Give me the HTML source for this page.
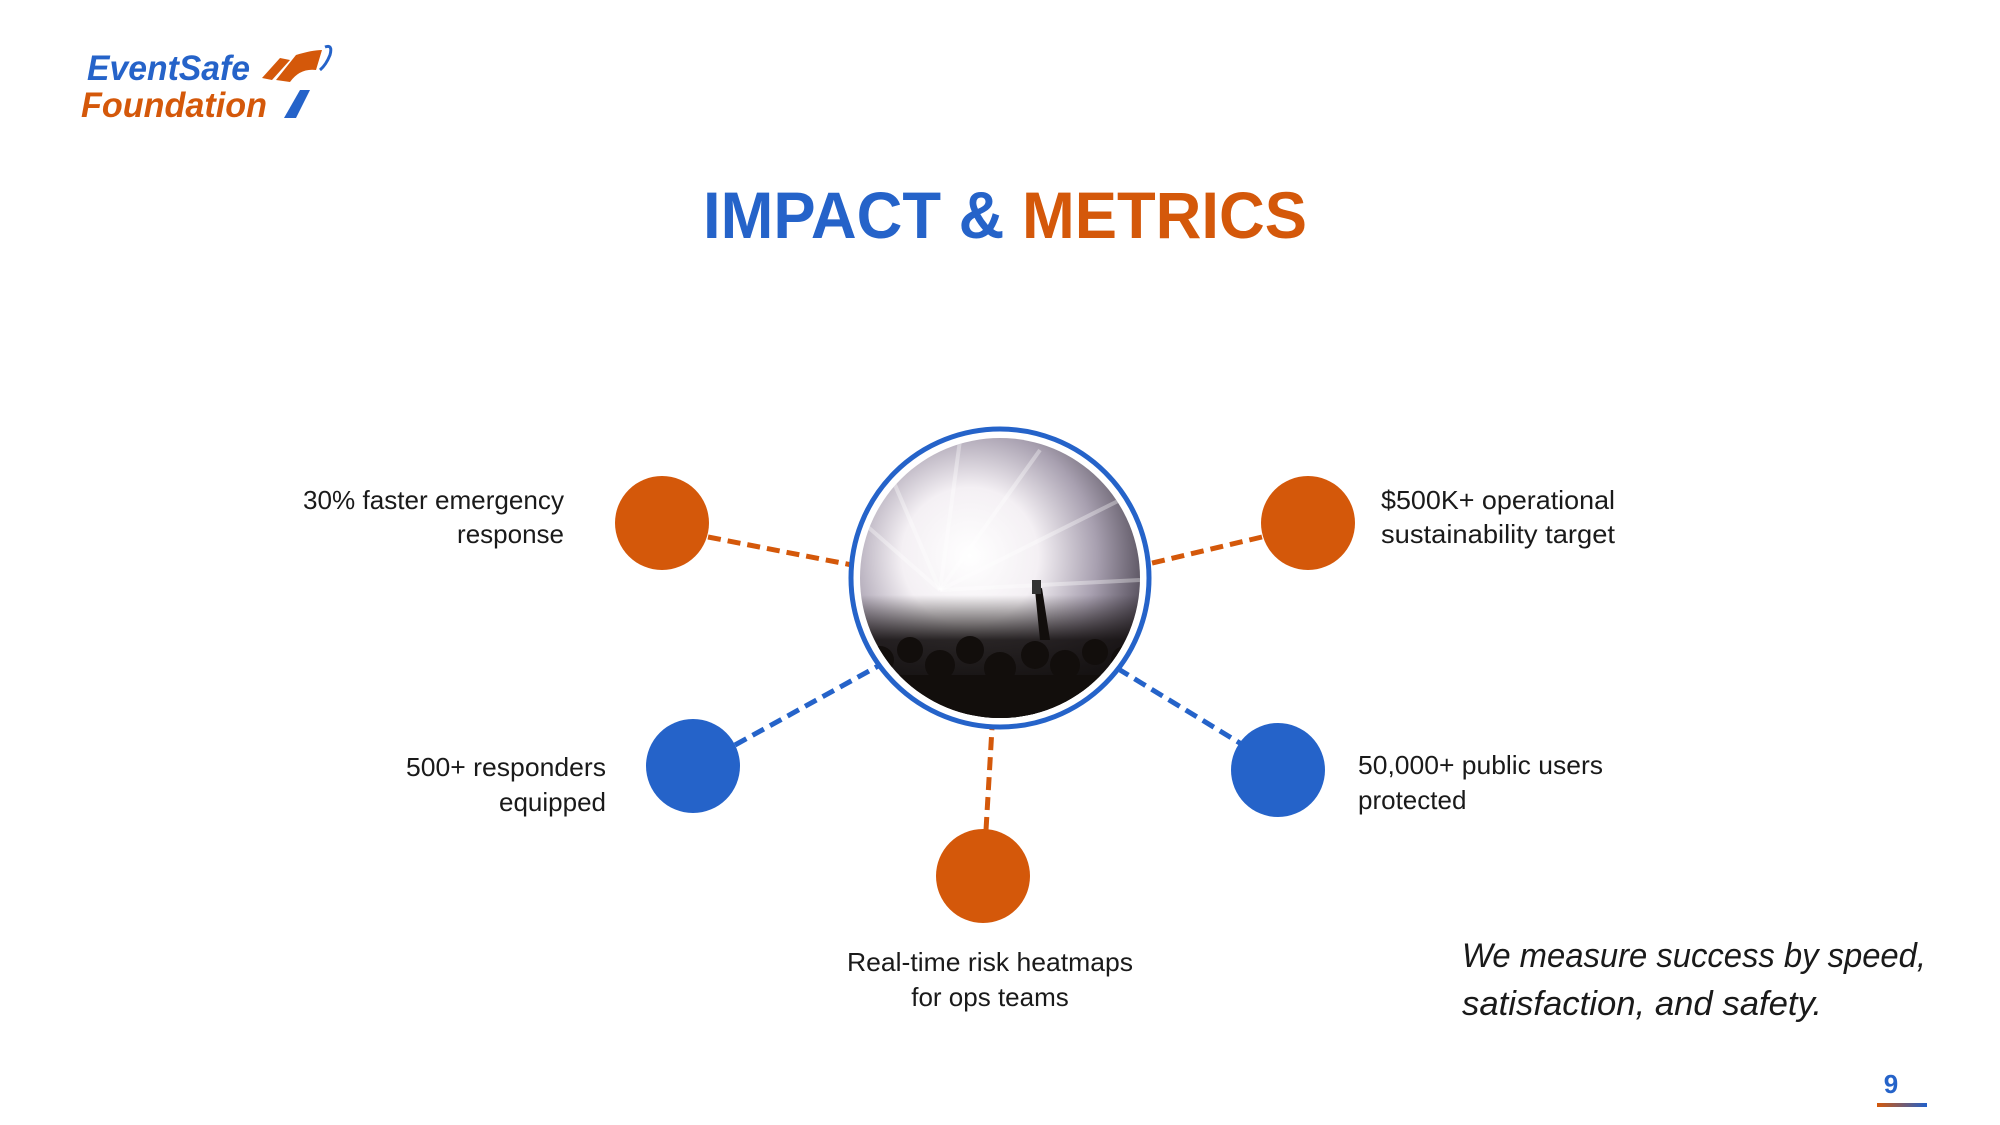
<!DOCTYPE html>
<html><head><meta charset="utf-8"><style>
html,body{margin:0;padding:0;background:#fff;}
svg{display:block;}
text{font-family:"Liberation Sans",sans-serif;}
</style></head><body>
<svg width="2000" height="1125" viewBox="0 0 2000 1125" xmlns="http://www.w3.org/2000/svg">
<defs>
<clipPath id="cc"><circle cx="1000" cy="578" r="140"/></clipPath>
<radialGradient id="glow" cx="0.4" cy="0.42" r="0.65">
<stop offset="0" stop-color="#ffffff"/>
<stop offset="0.35" stop-color="#f4f0f4"/>
<stop offset="0.65" stop-color="#a8a0b0"/>
<stop offset="1" stop-color="#3a3440"/>
</radialGradient>
<linearGradient id="crowd" x1="0" y1="0" x2="0" y2="1">
<stop offset="0" stop-color="#2a2420" stop-opacity="0"/>
<stop offset="0.55" stop-color="#1a1512" stop-opacity="0"/>
<stop offset="0.7" stop-color="#141010" stop-opacity="0.9"/>
<stop offset="1" stop-color="#0a0806"/>
</linearGradient>
<linearGradient id="ul" x1="0" x2="1"><stop offset="0" stop-color="#d4580a"/><stop offset="1" stop-color="#2060cc"/></linearGradient>
</defs>

<!-- logo -->
<text x="87" y="80" font-size="35" font-weight="bold" font-style="italic" fill="#2563c9" textLength="163" lengthAdjust="spacingAndGlyphs">EventSafe</text>
<text x="81" y="117" font-size="35" font-weight="bold" font-style="italic" fill="#d4580a" textLength="186" lengthAdjust="spacingAndGlyphs">Foundation</text>
<path d="M262 78 L280 58 L290 60 L272 80 Z" fill="#d4580a"/>
<path d="M276 80 L296 55 Q312 50 322 50 L316 70 Q300 68 290 82 Z" fill="#d4580a"/>
<path d="M325 47 Q333 44 330 55 Q326 65 320 70" fill="none" stroke="#2563c9" stroke-width="3"/>
<path d="M300 90 L310 90 L296 118 L284 118 Z" fill="#2563c9"/>

<!-- title -->
<text x="703" y="238" font-size="66" font-weight="bold" fill="#2563c9" textLength="604" lengthAdjust="spacingAndGlyphs">IMPACT &amp; <tspan fill="#d4580a">METRICS</tspan></text>

<!-- connectors -->
<g stroke-width="5" stroke-dasharray="13 7" fill="none">
<line x1="708" y1="537" x2="852" y2="565" stroke="#d4580a"/>
<line x1="1262" y1="537" x2="1148" y2="564" stroke="#d4580a"/>
<line x1="735" y1="745" x2="880" y2="665" stroke="#2563c9"/>
<line x1="1248" y1="748" x2="1120" y2="670" stroke="#2563c9"/>
<line x1="986" y1="830" x2="992" y2="728" stroke="#d4580a"/>
</g>

<!-- center image -->
<circle cx="1000" cy="578" r="149" fill="#fff" stroke="#2563c9" stroke-width="5"/>
<g clip-path="url(#cc)">
<rect x="850" y="430" width="300" height="300" fill="url(#glow)"/>
<g stroke="#ffffff" stroke-opacity="0.35" stroke-width="4">
<line x1="940" y1="590" x2="880" y2="450"/><line x1="940" y1="590" x2="960" y2="440"/>
<line x1="940" y1="590" x2="1040" y2="450"/><line x1="940" y1="590" x2="1120" y2="500"/>
<line x1="940" y1="590" x2="860" y2="520"/><line x1="940" y1="590" x2="1140" y2="580"/>
</g>
<rect x="850" y="430" width="300" height="300" fill="url(#crowd)"/>
<g fill="#120e0c">
<circle cx="880" cy="660" r="14"/><circle cx="910" cy="650" r="13"/><circle cx="940" cy="665" r="15"/>
<circle cx="970" cy="650" r="14"/><circle cx="1000" cy="668" r="16"/><circle cx="1035" cy="655" r="14"/>
<circle cx="1065" cy="665" r="15"/><circle cx="1095" cy="652" r="13"/><circle cx="1125" cy="660" r="14"/>
<circle cx="960" cy="695" r="16"/><circle cx="1025" cy="700" r="17"/><circle cx="1080" cy="695" r="16"/>
<rect x="850" y="675" width="300" height="60"/>
<path d="M1040 640 L1035 590 L1042 588 L1050 640 Z"/>
</g>
<rect x="1032" y="580" width="9" height="14" fill="#333"/>
</g>

<!-- nodes -->
<circle cx="662" cy="523" r="47" fill="#d4580a"/>
<circle cx="1308" cy="523" r="47" fill="#d4580a"/>
<circle cx="693" cy="766" r="47" fill="#2563c9"/>
<circle cx="1278" cy="770" r="47" fill="#2563c9"/>
<circle cx="983" cy="876" r="47" fill="#d4580a"/>

<!-- labels -->
<g font-size="26" fill="#1a1a1a">
<text x="564" y="509" text-anchor="end" textLength="261" lengthAdjust="spacingAndGlyphs">30% faster emergency</text>
<text x="564" y="543" text-anchor="end">response</text>
<text x="1381" y="509" textLength="234" lengthAdjust="spacingAndGlyphs">$500K+ operational</text>
<text x="1381" y="543" textLength="234" lengthAdjust="spacingAndGlyphs">sustainability target</text>
<text x="606" y="776" text-anchor="end" textLength="200" lengthAdjust="spacingAndGlyphs">500+ responders</text>
<text x="606" y="811" text-anchor="end">equipped</text>
<text x="1358" y="774" textLength="245" lengthAdjust="spacingAndGlyphs">50,000+ public users</text>
<text x="1358" y="809">protected</text>
<text x="990" y="971" text-anchor="middle" textLength="286" lengthAdjust="spacingAndGlyphs">Real-time risk heatmaps</text>
<text x="990" y="1006" text-anchor="middle">for ops teams</text>
</g>
<g font-size="34" font-style="italic" fill="#1a1a1a">
<text x="1462" y="967" textLength="464" lengthAdjust="spacingAndGlyphs">We measure success by speed,</text>
<text x="1462" y="1015" textLength="360" lengthAdjust="spacingAndGlyphs">satisfaction, and safety.</text>
</g>

<text x="1891" y="1093" font-size="26" font-weight="bold" fill="#2563c9" text-anchor="middle">9</text>
<rect x="1877" y="1103" width="50" height="4" fill="url(#ul)"/>
</svg>
</body></html>
